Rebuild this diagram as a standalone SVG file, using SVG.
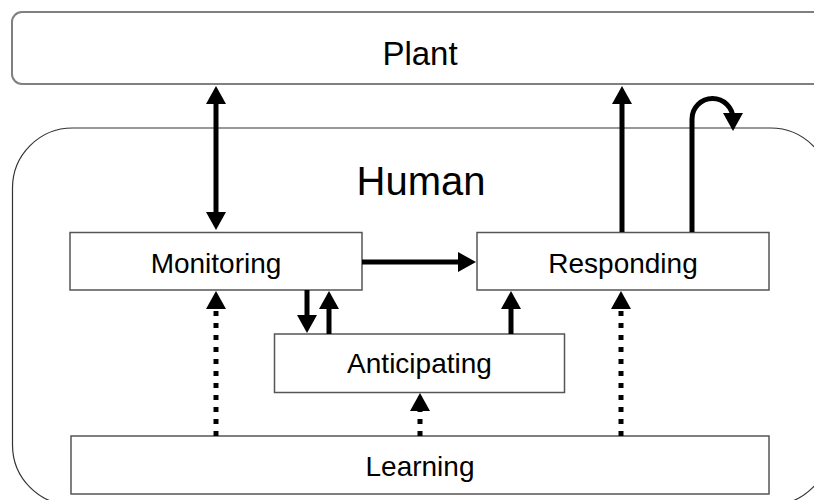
<svg xmlns="http://www.w3.org/2000/svg" width="814" height="500" viewBox="0 0 814 500">
<style>
.box{fill:#fff;stroke:#555;stroke-width:1.5}
.big{font-family:"Liberation Sans",Arial,sans-serif;fill:#000;text-anchor:middle}
.lbl{font-family:"Liberation Sans",Arial,sans-serif;font-size:28px;fill:#000;text-anchor:middle}
.a{fill:none;stroke:#000;stroke-width:5}
.d{fill:none;stroke:#000;stroke-width:5;stroke-dasharray:5 7}
</style>
<defs>
<marker id="h" markerUnits="userSpaceOnUse" viewBox="0 0 18 20" refX="8" refY="10" markerWidth="18" markerHeight="20" orient="auto-start-reverse">
<path d="M0,0 L18,10 L0,20 z" fill="#000"/>
</marker>
</defs>
<g id="plant">
<rect x="12" y="12" width="830" height="72" rx="10" fill="#fff" stroke="#808080" stroke-width="2"/>
<text class="big" x="420" y="65" font-size="33">Plant</text>
</g>
<g id="human">
<rect x="12.5" y="128" width="818" height="377" rx="60" fill="none" stroke="#333" stroke-width="1.2"/>
<text class="big" x="421" y="195" font-size="40">Human</text>
</g>
<g id="monitoring">
<rect class="box" x="70" y="232.5" width="292" height="57.5"/>
<text class="lbl" x="216" y="273">Monitoring</text>
</g>
<g id="responding">
<rect class="box" x="477" y="232.5" width="292" height="57.5"/>
<text class="lbl" x="623" y="273">Responding</text>
</g>
<g id="anticipating">
<rect class="box" x="274.5" y="334" width="290" height="58.5"/>
<text class="lbl" x="419.5" y="373">Anticipating</text>
</g>
<g id="learning">
<rect class="box" x="71" y="436" width="698" height="58"/>
<text class="lbl" x="420" y="476">Learning</text>
</g>
<g id="connectors">
<path class="a" d="M216 96 V220" marker-start="url(#h)" marker-end="url(#h)"/>
<path class="a" d="M362 262 H466" marker-end="url(#h)"/>
<path class="a" d="M307 290 V323" marker-end="url(#h)"/>
<path class="a" d="M329 334 V301" marker-end="url(#h)"/>
<path class="a" d="M511 334 V301" marker-end="url(#h)"/>
<path class="a" d="M622 232 V96" marker-end="url(#h)"/>
<path class="a" d="M692 232 V119 A20.5 20.5 0 0 1 733 119 L733 121" marker-end="url(#h)"/>
<path class="d" d="M216 436 V301" marker-end="url(#h)"/>
<path class="d" d="M420 436 V403" marker-end="url(#h)"/>
<path class="d" d="M621 436 V301" marker-end="url(#h)"/>
</g>
</svg>
